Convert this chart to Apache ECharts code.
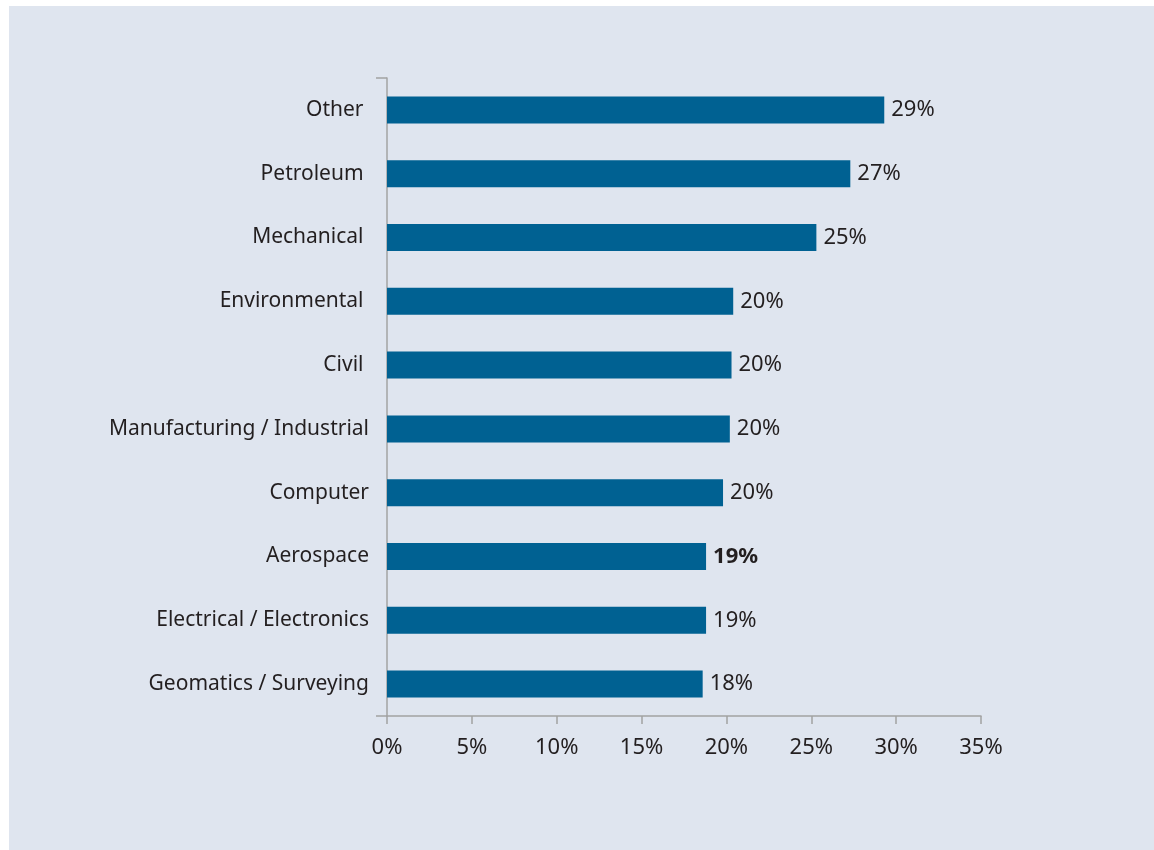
<!DOCTYPE html>
<html>
<head>
<meta charset="utf-8">
<script src="https://cdn.jsdelivr.net/npm/echarts@6/dist/echarts.min.js"></script>
<style>
html,body{margin:0;padding:0;background:#ffffff;}
#chart{position:absolute;left:9px;top:6px;width:1145px;height:844px;background:#dfe5ef;}
</style>
</head>
<body>
<div id="chart"></div>
<script>
const categories = ['Other ', 'Petroleum ', 'Mechanical ', 'Environmental ', 'Civil ', 'Manufacturing / Industrial', 'Computer', 'Aerospace', 'Electrical / Electronics', 'Geomatics / Surveying'];
const values = [29.3, 27.3, 25.3, 20.4, 20.3, 20.2, 19.8, 18.8, 18.8, 18.6];
const valueLabels = ['29%', '27%', '25%', '20%', '20%', '20%', '20%', '19%', '19%', '18%'];
const boldIndex = [7];
const xTicks = [0, 5, 10, 15, 20, 25, 30, 35];

const chart = echarts.init(document.getElementById('chart'));
const font = 'Noto Sans';
chart.setOption({
  animation: false,
  grid: {left: 378, right: 173, top: 72, bottom: 134, containLabel: false},
  xAxis: {
    type: 'value', min: xTicks[0], max: xTicks[xTicks.length - 1], interval: 5,
    axisLine: {show: true, lineStyle: {color: '#a3a3a3', width: 1.5}},
    axisTick: {show: true, length: 8, lineStyle: {color: '#a3a3a3', width: 1.5}},
    splitLine: {show: false},
    axisLabel: {formatter: '{value}%', color: '#231f20', fontSize: 22, fontFamily: font, margin: 21}
  },
  yAxis: {
    type: 'category', inverse: true, data: categories,
    axisLine: {show: true, lineStyle: {color: '#a3a3a3', width: 1.5}},
    axisTick: {show: true, length: 11, interval: 9, lineStyle: {color: '#a3a3a3', width: 1.5}},
    axisLabel: {color: '#231f20', fontSize: 21, fontFamily: font, margin: 18, padding: [4, 0, 0, 0]}
  },
  series: [{
    type: 'bar',
    barWidth: 27,
    itemStyle: {color: '#006192'},
    data: values.map((v, i) => ({
      value: v,
      label: boldIndex.includes(i) ? {fontWeight: 'bold'} : undefined
    })),
    label: {
      show: true, position: 'right', distance: 7,
      color: '#231f20', fontSize: 22, fontFamily: font,
      formatter: p => valueLabels[p.dataIndex]
    }
  }]
});
</script>
</body>
</html>
